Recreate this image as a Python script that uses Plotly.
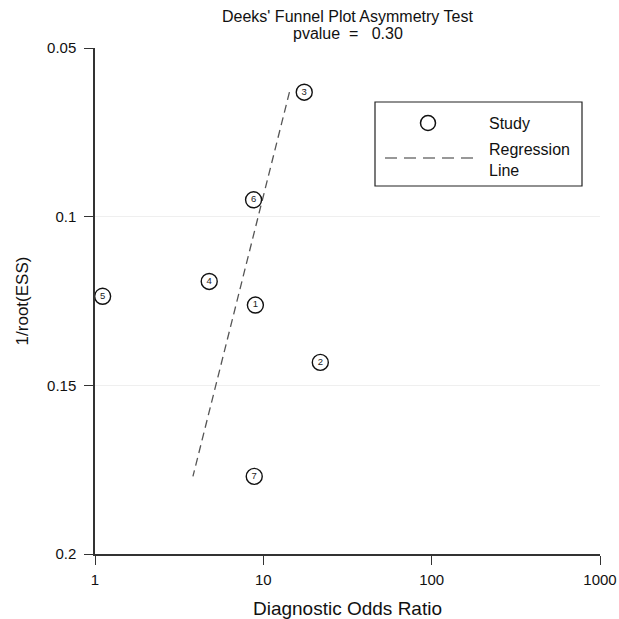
import numpy as np
import plotly.graph_objects as go

# ---- data ----
study = ["1", "2", "3", "4", "5", "6", "7"]
dor = [8.97, 21.8, 17.5, 4.77, 1.11, 8.75, 8.83]          # Diagnostic Odds Ratio
inv_root_ess = [0.1262, 0.1432, 0.0631, 0.1192, 0.1236, 0.0950, 0.1770]  # 1/root(ESS)
reg_intercept = 3.391   # ln(DOR) = a + b * 1/root(ESS)
reg_slope = -11.59
pvalue = 0.30
x_ticks = [1, 10, 100, 1000]
y_ticks = [0.05, 0.1, 0.15, 0.2]
y_tick_text = ["0.05", "0.1", "0.15", "0.2"]

FONT = "Liberation Sans, Arial, Helvetica, sans-serif"

# plot-area geometry (pixels)
L, R, T, B = 95, 19, 48, 65
H = 619 - T - B
W = 619 - L - R


def px(x):
    return (x - L) / W


def py(y):
    return (619 - B - y) / H


reg_y = np.array([min(inv_root_ess), max(inv_root_ess)])
reg_x = np.exp(reg_intercept + reg_slope * reg_y)

fig = go.Figure()
fig.add_trace(go.Scatter(
    x=reg_x, y=reg_y, mode="lines",
    line=dict(color="#555555", width=1.3, dash="8px,5px"),
    showlegend=False, hoverinfo="skip"))
fig.add_trace(go.Scatter(
    x=dor, y=inv_root_ess, mode="markers+text", text=study,
    textposition="middle center",
    textfont=dict(family=FONT, size=9.5, color="#222"),
    marker=dict(symbol="circle-open", size=16, color="#111", line=dict(width=1.4)),
    cliponaxis=False, showlegend=False))

# custom legend (paper coordinates)
r = 7.5
shapes = [
    dict(type="rect", xref="paper", yref="paper", x0=px(375), x1=px(582), y0=py(186), y1=py(102),
         line=dict(color="#222", width=1.2), fillcolor="white", layer="above"),
    dict(type="circle", xref="paper", yref="paper", x0=px(428 - r), x1=px(428 + r),
         y0=py(123 + r), y1=py(123 - r),
         line=dict(color="#111", width=1.5), layer="above"),
    dict(type="line", xref="paper", yref="paper", x0=px(385), x1=px(473), y0=py(158), y1=py(158),
         line=dict(color="#777", width=1.3, dash="12px,7px"), layer="above"),
]
annotations = [
    dict(text="Study", xref="paper", yref="paper", x=px(487), y=py(123), xanchor="left",
         yanchor="middle", showarrow=False, font=dict(family=FONT, size=16, color="#111")),
    dict(text="Regression<br>Line", xref="paper", yref="paper", x=px(487), y=py(160),
         xanchor="left", yanchor="middle", align="left", showarrow=False,
         font=dict(family=FONT, size=16, color="#111")),
    dict(text="Deeks' Funnel Plot Asymmetry Test",
         xref="paper", yref="paper", x=0.5, y=py(17), xanchor="center", yanchor="middle",
         showarrow=False, borderpad=0, font=dict(family=FONT, size=16, color="#111")),
    dict(text="pvalue  =   %.2f" % pvalue,
         xref="paper", yref="paper", x=0.5, y=py(34), xanchor="center", yanchor="middle",
         showarrow=False, borderpad=0, font=dict(family=FONT, size=16, color="#111")),
]

fig.update_layout(
    width=619, height=619,
    margin=dict(l=L, r=R, t=T, b=B),
    plot_bgcolor="white", paper_bgcolor="white",
    font=dict(family=FONT, color="#111"),
    shapes=shapes, annotations=annotations,
    showlegend=False,
)
fig.update_xaxes(
    type="log", range=[0, 3], tickvals=x_ticks, ticktext=[str(v) for v in x_ticks],
    showgrid=False, zeroline=False, showline=True, linecolor="#333", linewidth=1.5,
    ticks="outside", ticklen=9, tickwidth=1.3, tickcolor="#333",
    tickfont=dict(family=FONT, size=15), ticklabelstandoff=2, automargin=False,
    title=dict(text="Diagnostic Odds Ratio", font=dict(family=FONT, size=19), standoff=15),
)
fig.update_yaxes(
    range=[0.2, 0.05], tickvals=y_ticks, ticktext=y_tick_text,
    showgrid=True, gridcolor="#efefef", gridwidth=1, zeroline=False,
    showline=True, linecolor="#333", linewidth=1.5,
    ticks="outside", ticklen=9, tickwidth=1.3, tickcolor="#333",
    tickfont=dict(family=FONT, size=15), ticklabelstandoff=5, automargin=False,
    title=dict(text="1/root(ESS)", font=dict(family=FONT, size=17), standoff=14),
)

fig.write_html(
    "out.html",
    config={"displayModeBar": False},
    post_script="document.body.style.margin='0';document.body.style.overflow='hidden';",
)
